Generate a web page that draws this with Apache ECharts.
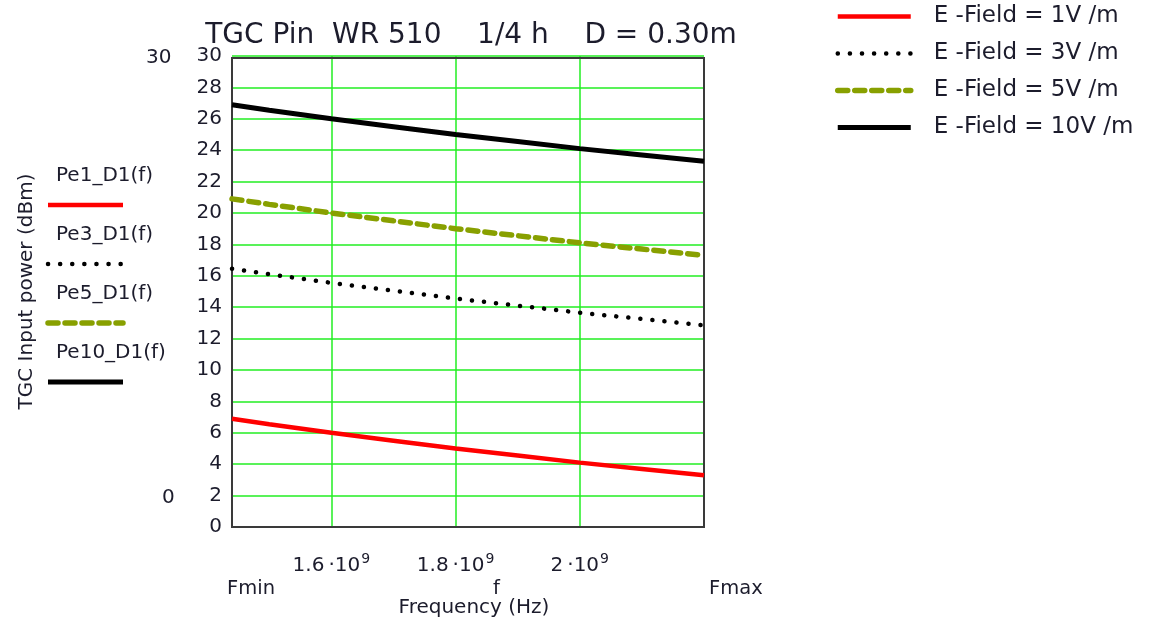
<!DOCTYPE html>
<html>
<head>
<meta charset="utf-8">
<script src="https://cdn.jsdelivr.net/npm/echarts@6/dist/echarts.min.js"></script>
<style>
html,body{margin:0;padding:0;background:#fff;}
#chart{width:1157px;height:625px;}
</style>
</head>
<body>
<div id="chart"></div>
<script>
// Data
var freqHz = [1.44e9, 1.5e9, 1.6e9, 1.7e9, 1.8e9, 1.9e9, 2.0e9, 2.1e9, 2.2e9];
var pe1 = [6.9, 6.55, 6.0, 5.5, 5.0, 4.55, 4.1, 3.7, 3.3];
var pe3 = [16.45, 16.1, 15.55, 15.05, 14.55, 14.1, 13.65, 13.25, 12.85];
var pe5 = [20.9, 20.55, 20.0, 19.5, 19.0, 18.55, 18.1, 17.7, 17.3];
var pe10 = [26.9, 26.55, 26.0, 25.5, 25.0, 24.55, 24.1, 23.7, 23.3];
var seriesNames = ['E -Field = 1V /m', 'E -Field = 3V /m', 'E -Field = 5V /m', 'E -Field = 10V /m'];
var traceNames = ['Pe1_D1(f)', 'Pe3_D1(f)', 'Pe5_D1(f)', 'Pe10_D1(f)'];
var xTickValues = [1.6e9, 1.8e9, 2.0e9];
var fMin = 1.44e9, fMax = 2.2e9;
var yMin = 0, yMax = 30, yStep = 2;

var FONT = 'DejaVu Sans';
var TXT = '#1c1c2c';
var RED = '#ff0000', GREEN = '#88a000', BLACK = '#000000', GRID = '#22ee22';

function pairs(ys){ return freqHz.map(function(f,i){ return [f, ys[i]]; }); }

var styles = [
  {color: RED, width: 4.5, type: 'solid', cap: 'butt'},
  {color: BLACK, width: 4.5, type: [0.1, 12], cap: 'round'},
  {color: GREEN, width: 5.5, type: [10, 7], cap: 'round'},
  {color: BLACK, width: 5, type: 'solid', cap: 'butt'}
];
var datasets = [pe1, pe3, pe5, pe10];

var chart = echarts.init(document.getElementById('chart'));

var leftLegendGraphics = [];
var rowY = [178, 237, 296, 355];
traceNames.forEach(function(n, i){
  leftLegendGraphics.push({
    type: 'text', left: 56, top: rowY[i] - 12,
    style: {text: n, fontSize: 20, fontFamily: FONT, fill: TXT}
  });
  leftLegendGraphics.push({
    type: 'line',
    shape: {x1: 48, y1: rowY[i] + 27, x2: 123, y2: rowY[i] + 27},
    style: {stroke: styles[i].color, lineWidth: styles[i].width,
            lineDash: styles[i].type === 'solid' ? null : styles[i].type,
            lineCap: styles[i].cap}
  });
});

var option = {
  backgroundColor: '#fff',
  animation: false,
  title: {
    text: 'TGC Pin  WR 510    1/4 h    D = 0.30m',
    left: 466, top: 17, textAlign: 'center',
    textStyle: {fontFamily: FONT, fontSize: 28, fontWeight: 'normal', color: TXT}
  },
  legend: {
    orient: 'vertical', left: 830, top: 0,
    itemWidth: 73, itemHeight: 14, itemGap: 14,
    data: seriesNames,
    itemStyle: {color: 'transparent', borderWidth: 0, opacity: 0},
    lineStyle: {width: 'inherit', type: 'inherit', cap: 'inherit', color: 'inherit'},
    textStyle: {fontFamily: FONT, fontSize: 23, color: TXT, lineHeight: 23, padding: [0, 0, 0, 18]}
  },
  grid: {left: 232, right: 453, top: 56, bottom: 98, containLabel: false},
  xAxis: {
    type: 'value', min: fMin, max: fMax,
    name: 'Frequency (Hz)', nameLocation: 'middle', nameGap: 71,
    nameTextStyle: {fontFamily: FONT, fontSize: 20, color: TXT, padding: [0, 0, 0, 12]},
    axisLine: {show: false},
    axisTick: {show: false, customValues: xTickValues},
    splitLine: {show: true, lineStyle: {color: GRID, width: 1.5}},
    axisLabel: {
      customValues: xTickValues,
      margin: 25,
      fontFamily: FONT, fontSize: 20, color: TXT,
      formatter: function(v){ return '{b|' + (v/1e9).toString() + '\u2009\u00b710}{s|9}'; },
      rich: {
        b: {fontFamily: FONT, fontSize: 20, color: TXT},
        s: {fontFamily: FONT, fontSize: 14, color: TXT, padding: [0, 0, 13, 1]}
      }
    }
  },
  yAxis: {
    type: 'value', min: yMin, max: yMax, interval: yStep,
    name: 'TGC Input power (dBm)', nameLocation: 'middle', nameGap: 195,
    nameTextStyle: {fontFamily: FONT, fontSize: 20, color: TXT},
    axisLine: {show: false},
    axisTick: {show: false},
    splitLine: {show: true, lineStyle: {color: GRID, width: 1.5}},
    axisLabel: {fontFamily: FONT, fontSize: 20, color: TXT, margin: 10, padding: [4, 0, 0, 0]}
  },
  series: datasets.map(function(d, i){
    return {
      name: seriesNames[i], type: 'line', data: pairs(d),
      symbol: 'none', smooth: false, z: 5 + i,
      lineStyle: {color: styles[i].color, width: styles[i].width, type: styles[i].type, cap: styles[i].cap},
      itemStyle: {color: styles[i].color}
    };
  }),
  graphic: [
    {type: 'rect', shape: {x: 232, y: 58, width: 472, height: 469},
     style: {fill: null, stroke: '#3a3a3a', lineWidth: 2}, z: 3, silent: true},
    {type: 'text', left: 146, top: 48, style: {text: '30', fontSize: 20, fontFamily: FONT, fill: TXT}},
    {type: 'text', left: 162, top: 488, style: {text: '0', fontSize: 20, fontFamily: FONT, fill: TXT}},
    {type: 'text', left: 227, top: 579, style: {text: 'Fmin', fontSize: 19.5, fontFamily: FONT, fill: TXT}},
    {type: 'text', left: 493, top: 579, style: {text: 'f', fontSize: 19.5, fontFamily: FONT, fill: TXT}},
    {type: 'text', left: 709, top: 579, style: {text: 'Fmax', fontSize: 19.5, fontFamily: FONT, fill: TXT}}
  ].concat(leftLegendGraphics)
};
chart.setOption(option);
</script>
</body>
</html>
